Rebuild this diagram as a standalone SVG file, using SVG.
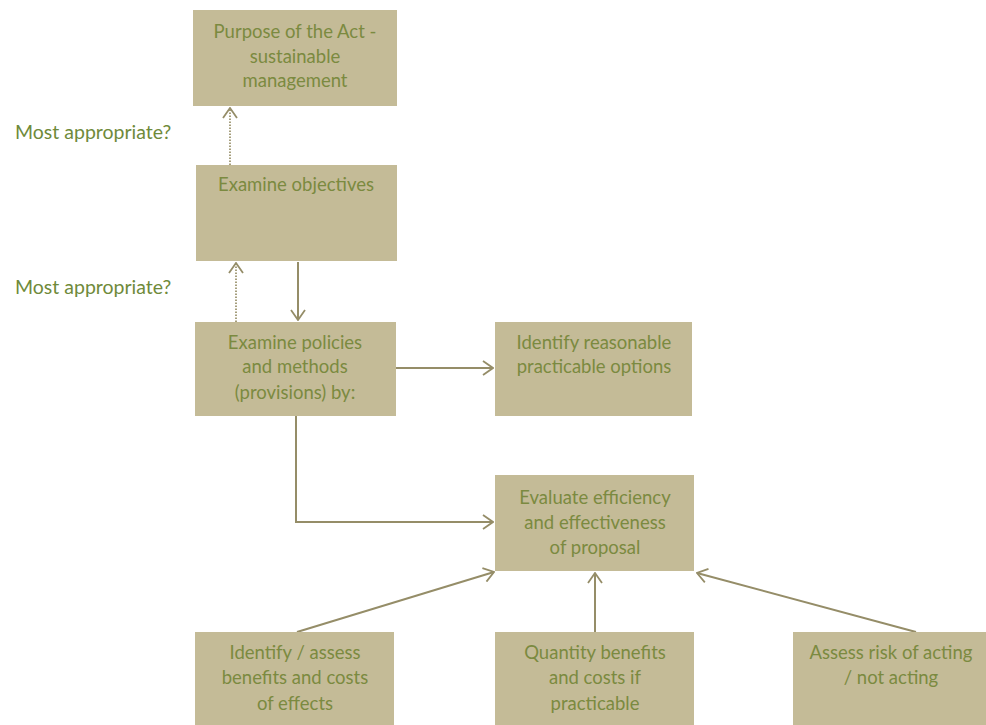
<svg xmlns="http://www.w3.org/2000/svg" width="986" height="725" viewBox="0 0 986 725">
<style>
.box{fill:#c4bb97;}
.t{font-family:Lato,"Open Sans","Liberation Sans",sans-serif;font-size:18.5px;fill:#7b8a40;text-anchor:middle;}
.lbl{font-family:Lato,"Open Sans","Liberation Sans",sans-serif;font-size:19.5px;fill:#6f8a3a;}
.c{stroke:#958d68;stroke-width:2;fill:none;}
.d{stroke:#a59e7c;stroke-width:2;fill:none;stroke-dasharray:1.5 1.5;}
</style>
<defs>
<marker id="ah" viewBox="0 0 12 16" refX="11" refY="8" markerWidth="12" markerHeight="16" markerUnits="userSpaceOnUse" orient="auto">
<path d="M1,1 L11,8 L1,15" fill="none" stroke="#958d68" stroke-width="1.8"/>
</marker>
</defs>
<rect width="986" height="725" fill="#ffffff"/>
<g id="connectors">
<line class="d" x1="230" y1="165" x2="230" y2="108" marker-end="url(#ah)"/>
<line class="d" x1="236" y1="322" x2="236" y2="263" marker-end="url(#ah)"/>
<line class="c" x1="298" y1="262" x2="298" y2="320" marker-end="url(#ah)"/>
<line class="c" x1="396" y1="368" x2="493" y2="368" marker-end="url(#ah)"/>
<polyline class="c" points="296,416 296,522 493,522" marker-end="url(#ah)"/>
<line class="c" x1="297" y1="632" x2="494" y2="572" marker-end="url(#ah)"/>
<line class="c" x1="595" y1="632" x2="595" y2="573" marker-end="url(#ah)"/>
<line class="c" x1="916" y1="632" x2="697" y2="573" marker-end="url(#ah)"/>
</g>
<g id="label1"><text class="lbl" x="15" y="139">Most appropriate?</text></g>
<g id="label2"><text class="lbl" x="15" y="294">Most appropriate?</text></g>
<g id="purpose">
<rect class="box" x="193" y="10" width="204" height="96"/>
<text class="t" x="295" y="38">Purpose of the Act -</text>
<text class="t" x="295" y="63">sustainable</text>
<text class="t" x="295" y="87">management</text>
</g>
<g id="objectives">
<rect class="box" x="196" y="165" width="201" height="96"/>
<text class="t" x="296" y="191">Examine objectives</text>
</g>
<g id="policies">
<rect class="box" x="195" y="322" width="201" height="94"/>
<text class="t" x="295" y="349">Examine policies</text>
<text class="t" x="295" y="373">and methods</text>
<text class="t" x="295" y="399">(provisions) by:</text>
</g>
<g id="options">
<rect class="box" x="495" y="322" width="197" height="94"/>
<text class="t" x="594" y="349">Identify reasonable</text>
<text class="t" x="594" y="373">practicable options</text>
</g>
<g id="evaluate">
<rect class="box" x="495" y="475" width="199" height="96"/>
<text class="t" x="595" y="504">Evaluate efficiency</text>
<text class="t" x="595" y="529">and effectiveness</text>
<text class="t" x="595" y="554">of proposal</text>
</g>
<g id="identify">
<rect class="box" x="195" y="632" width="199" height="93"/>
<text class="t" x="295" y="659">Identify / assess</text>
<text class="t" x="295" y="684">benefits and costs</text>
<text class="t" x="295" y="710">of effects</text>
</g>
<g id="quantity">
<rect class="box" x="495" y="632" width="199" height="93"/>
<text class="t" x="595" y="659">Quantity benefits</text>
<text class="t" x="595" y="684">and costs if</text>
<text class="t" x="595" y="710">practicable</text>
</g>
<g id="risk">
<rect class="box" x="793" y="632" width="193" height="93"/>
<text class="t" x="891" y="659">Assess risk of acting</text>
<text class="t" x="891" y="684">/ not acting</text>
</g>
</svg>
